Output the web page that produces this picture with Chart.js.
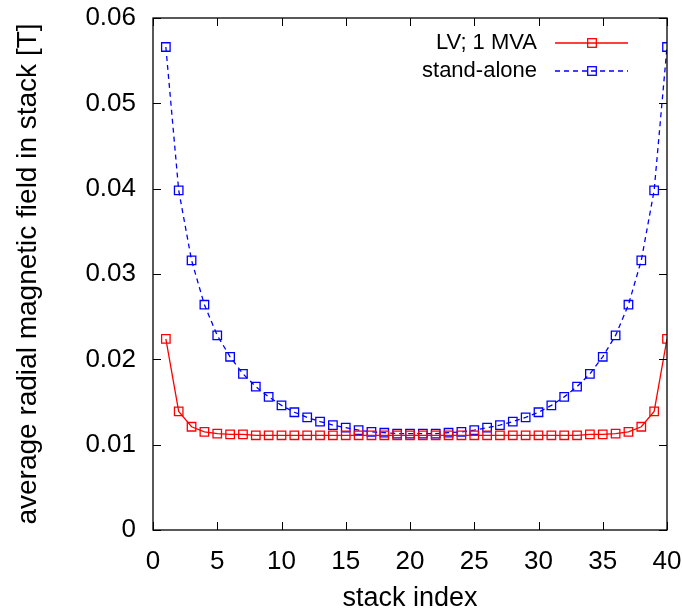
<!DOCTYPE html>
<html lang="en">
<head>
    <meta charset="UTF-8">
    <title>average radial magnetic field in stack</title>
    <script src="https://cdn.jsdelivr.net/npm/chart.js"></script>
    <style>
        html, body { margin: 0; padding: 0; background: #fff; }
        canvas { display: block; }
    </style>
</head>
<body>
    <canvas id="fieldChart" width="682" height="616"></canvas>

    <script>
        // stack index 1..40
        const stackIndex = [1, 2, 3, 4, 5, 6, 7, 8, 9, 10,
            11, 12, 13, 14, 15, 16, 17, 18, 19, 20,
            21, 22, 23, 24, 25, 26, 27, 28, 29, 30,
            31, 32, 33, 34, 35, 36, 37, 38, 39, 40];

        // LV; 1 MVA
        const lvField = [0.0224, 0.0139, 0.0121, 0.0115, 0.0113, 0.0112, 0.0112, 0.0111, 0.0111, 0.0111,
            0.0111, 0.0111, 0.0111, 0.0111, 0.0111, 0.0111, 0.0111, 0.0111, 0.0111, 0.0111,
            0.0111, 0.0111, 0.0111, 0.0111, 0.0111, 0.0111, 0.0111, 0.0111, 0.0111, 0.0111,
            0.0111, 0.0111, 0.0111, 0.0112, 0.0112, 0.0113, 0.0115, 0.0121, 0.0139, 0.0224];

        // stand-alone
        const standAloneField = [0.0566, 0.0398, 0.0316, 0.0264, 0.0228, 0.0203, 0.0183, 0.0168, 0.0156, 0.0146,
            0.0138, 0.0132, 0.0127, 0.0123, 0.0120, 0.0117, 0.0115, 0.0114, 0.0113, 0.0113,
            0.0113, 0.0113, 0.0114, 0.0115, 0.0117, 0.0120, 0.0123, 0.0127, 0.0132, 0.0138,
            0.0146, 0.0156, 0.0168, 0.0183, 0.0203, 0.0228, 0.0264, 0.0316, 0.0398, 0.0566];

        const seriesLabels = ['LV; 1 MVA', 'stand-alone'];
        const xTicks = [0, 5, 10, 15, 20, 25, 30, 35, 40];
        const yTicks = [0, 0.01, 0.02, 0.03, 0.04, 0.05, 0.06];

        const FONT = "'Liberation Sans', Arial, Helvetica, sans-serif";

        function toPoints(values) {
            return stackIndex.map((x, i) => ({ x: x, y: values[i] }));
        }

        // fixed axis boxes, no automatic label padding
        function fixBox(scale, size) {
            if (scale.isHorizontal()) scale.height = size;
            else scale.width = size;
            scale.paddingTop = 0;
            scale.paddingBottom = 0;
            scale.paddingLeft = 0;
            scale.paddingRight = 0;
        }

        // frame + inward ticks on all four sides
        const frameTicks = {
            id: 'frameTicks',
            afterDraw(chart) {
                const ctx = chart.ctx;
                const a = chart.chartArea;
                const xs = chart.scales.x, ys = chart.scales.y;
                const len = 8;
                ctx.save();
                ctx.strokeStyle = '#000';
                ctx.lineWidth = 1;
                ctx.beginPath();
                xTicks.forEach(v => {
                    const px = Math.round(xs.getPixelForValue(v)) + 0.5;
                    ctx.moveTo(px, a.bottom); ctx.lineTo(px, a.bottom - len);
                    ctx.moveTo(px, a.top); ctx.lineTo(px, a.top + len);
                });
                yTicks.forEach(v => {
                    const py = Math.round(ys.getPixelForValue(v)) + 0.5;
                    ctx.moveTo(a.left, py); ctx.lineTo(a.left + len, py);
                    ctx.moveTo(a.right, py); ctx.lineTo(a.right - len, py);
                });
                ctx.stroke();
                ctx.lineWidth = 1.3;
                ctx.strokeRect(a.left, a.top, a.right - a.left, a.bottom - a.top);
                ctx.restore();
            }
        };

        // gnuplot-style key: text right-aligned, sample to the right
        const keyBox = {
            id: 'keyBox',
            afterDraw(chart) {
                const ctx = chart.ctx;
                const a = chart.chartArea;
                ctx.save();
                ctx.font = '22px ' + FONT;
                ctx.textAlign = 'right';
                ctx.textBaseline = 'middle';
                chart.data.datasets.forEach((ds, i) => {
                    const y = a.top + 25 + i * 28;
                    ctx.fillStyle = '#000';
                    ctx.fillText(ds.label, a.right - 130, y);
                    ctx.strokeStyle = ds.borderColor;
                    ctx.lineWidth = ds.borderWidth;
                    ctx.setLineDash(ds.borderDash || []);
                    ctx.beginPath();
                    ctx.moveTo(a.right - 112, y);
                    ctx.lineTo(a.right - 39, y);
                    ctx.stroke();
                    ctx.setLineDash([]);
                    const s = 4.3;
                    ctx.strokeRect(a.right - 75 - s, y - s, 2 * s, 2 * s);
                });
                ctx.restore();
            }
        };

        new Chart(document.getElementById('fieldChart'), {
            type: 'line',
            data: {
                datasets: [
                    {
                        label: seriesLabels[0],
                        data: toPoints(lvField),
                        borderColor: '#ff0000',
                        borderWidth: 1.3,
                        pointStyle: 'rect',
                        pointRadius: 6,
                        pointBorderWidth: 1.3,
                        pointBorderColor: '#ff0000',
                        pointBackgroundColor: 'rgba(0,0,0,0)',
                        tension: 0
                    },
                    {
                        label: seriesLabels[1],
                        data: toPoints(standAloneField),
                        borderColor: '#0000ff',
                        borderWidth: 1.3,
                        borderDash: [5, 4],
                        pointStyle: 'rect',
                        pointRadius: 6,
                        pointBorderWidth: 1.3,
                        pointBorderColor: '#0000ff',
                        pointBackgroundColor: 'rgba(0,0,0,0)',
                        tension: 0
                    }
                ]
            },
            options: {
                responsive: false,
                animation: false,
                layout: {
                    autoPadding: false,
                    padding: { top: 18, right: 15, left: 0, bottom: 0 }
                },
                plugins: {
                    legend: { display: false },
                    tooltip: { enabled: false }
                },
                scales: {
                    x: {
                        type: 'linear',
                        min: 0,
                        max: 40,
                        grid: { display: false },
                        border: { display: false },
                        afterFit(scale) { fixBox(scale, 86); },
                        afterBuildTicks(scale) { scale.ticks = xTicks.map(v => ({ value: v })); },
                        ticks: {
                            color: '#000',
                            padding: 8,
                            maxRotation: 0,
                            font: { family: FONT, size: 26 }
                        },
                        title: {
                            display: true,
                            text: 'stack index',
                            color: '#000',
                            padding: { top: 0, bottom: 1 },
                            font: { family: FONT, size: 27 }
                        }
                    },
                    y: {
                        min: 0,
                        max: 0.06,
                        grid: { display: false },
                        border: { display: false },
                        afterFit(scale) { fixBox(scale, 153); },
                        afterBuildTicks(scale) { scale.ticks = yTicks.map(v => ({ value: v })); },
                        ticks: {
                            color: '#000',
                            padding: 9,
                            font: { family: FONT, size: 26 },
                            callback: v => v === 0 ? '0' : v.toFixed(2)
                        },
                        title: {
                            display: true,
                            text: 'average radial magnetic field in stack [T]',
                            color: '#000',
                            padding: { top: 11, bottom: 0 },
                            font: { family: FONT, size: 28 }
                        }
                    }
                }
            },
            plugins: [frameTicks, keyBox]
        });
    </script>
</body>
</html>
